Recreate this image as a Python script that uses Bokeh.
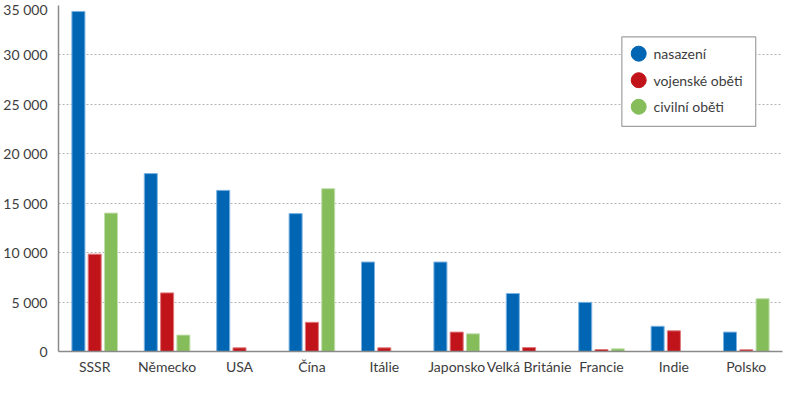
from bokeh.plotting import figure
from bokeh.models import FactorRange, ColumnDataSource, FixedTicker, Range1d
from bokeh.transform import dodge
from bokeh.core.properties import value
from bokeh.embed import file_html
from bokeh.resources import INLINE

countries = ["SSSR", "Německo", "USA", "Čína", "Itálie", "Japonsko",
             "Velká Británie", "Francie", "Indie", "Polsko"]
nasazeni = [34400, 18000, 16300, 13950, 9050, 9050, 5870, 4970, 2550, 1960]
vojenske = [9850, 5930, 370, 2950, 370, 1960, 400, 200, 2090, 170]
civilni = [14000, 1660, 0, 16470, 0, 1790, 0, 270, 0, 5340]
series_names = ["nasazení", "vojenské oběti", "civilní oběti"]
y_ticks = [0, 5000, 10000, 15000, 20000, 25000, 30000, 35000]
y_tick_labels = ["0", "5 000", "10 000", "15 000", "20 000", "25 000", "30 000", "35 000"]

colors = ["#0066b3", "#c0141a", "#85bd5b"]
edge = ["#7db3e3", "#e07a7d", "#c2dfae"]
FONT = "Lato"
TXT = "#3d3d3d"

src = ColumnDataSource(dict(x=countries, a=nasazeni, b=vojenske, c=civilni))

p = figure(x_range=FactorRange(*countries), y_range=Range1d(0, 35000),
           width=784, height=377, output_backend="svg", toolbar_location=None,
           min_border_left=52, min_border_right=2, min_border_top=5, min_border_bottom=0)
p.outline_line_color = None
p.background_fill_color = "white"

for col, off, c, e in zip(["a", "b", "c"], [-0.225, 0.0, 0.225], colors, edge):
    p.vbar(x=dodge("x", off, range=p.x_range), top=col, width=0.18, source=src,
           fill_color=c, line_color=e, line_width=1)

# legend box, anchored to the first category with offsets (upper right of the plot)
anchor = countries[0]
box_src = ColumnDataSource(dict(k=[anchor], b=[22770], t=[31818]))
p.quad(left=dodge("k", 7.281, range=p.x_range), right=dodge("k", 9.130, range=p.x_range),
       bottom="b", top="t", source=box_src,
       fill_color="white", line_color="#a0a0a0", line_width=1.2)
leg_src = ColumnDataSource(dict(k=[anchor] * 3, y=[30128, 27443, 24759],
                                name=series_names, col=colors))
p.scatter(x=dodge("k", 7.514, range=p.x_range), y="y", source=leg_src, size=15,
          marker="circle", fill_color="col", line_color="col")
p.text(x=dodge("k", 7.719, range=p.x_range), y="y", text="name", source=leg_src,
       text_font=value(FONT), text_font_size="14px", text_color=TXT, text_baseline="middle")

p.yaxis.ticker = FixedTicker(ticks=y_ticks)
p.yaxis.major_label_overrides = {t: l for t, l in zip(y_ticks, y_tick_labels)}
for ax in [p.xaxis, p.yaxis]:
    ax.axis_line_color = "#8a8a8a"
    ax.axis_line_width = 1.5
    ax.major_tick_line_color = None
    ax.minor_tick_line_color = None
    ax.major_tick_out = 0
    ax.major_tick_in = 0
    ax.minor_tick_out = 0
    ax.minor_tick_in = 0
    ax.axis_label_standoff = 0
    ax.major_label_text_font = FONT
    ax.major_label_text_font_size = "14px"
    ax.major_label_text_color = TXT
    ax.major_label_text_line_height = 0.8
p.yaxis.major_label_standoff = 11
p.xaxis.major_label_standoff = 6

p.xgrid.grid_line_color = None
p.ygrid.grid_line_color = "#b5b5b5"
p.ygrid.grid_line_dash = "2 2"
p.ygrid.grid_line_width = 1

open("out.html", "w").write(file_html(p, INLINE))
